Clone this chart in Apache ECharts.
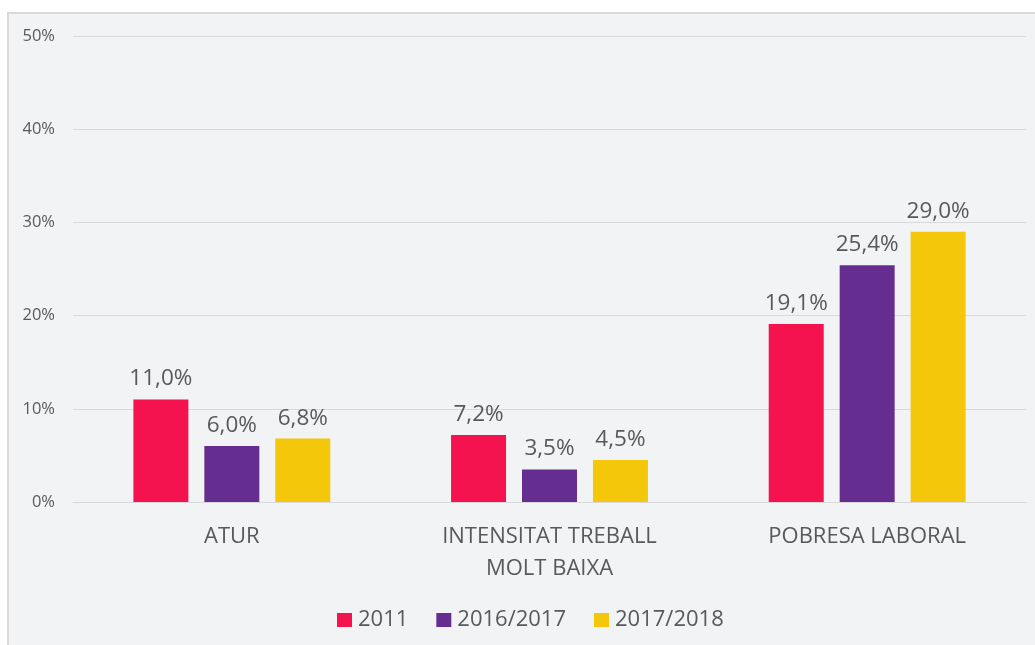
<!DOCTYPE html>
<html>
<head>
<meta charset="utf-8">
<script src="https://cdn.jsdelivr.net/npm/echarts@6/dist/echarts.min.js"></script>
<style>
  html, body { margin: 0; padding: 0; background: #ffffff; }
  #frame {
    position: absolute; left: 7px; top: 12px; width: 1040px; height: 650px;
    background: #f2f3f5; border: 2px solid #d9d9d9; box-sizing: border-box;
  }
  #chart { position: absolute; left: 0; top: 0; width: 1035px; height: 645px; }
</style>
</head>
<body>
<div id="frame"></div>
<div id="chart"></div>
<script>
// Categories and series (percentages)
const categories = ['ATUR', 'INTENSITAT TREBALL\nMOLT BAIXA', 'POBRESA LABORAL'];
const seriesNames = ['2011', '2016/2017', '2017/2018'];
const values2011 = [11.0, 7.2, 19.1];
const values2016 = [6.0, 3.5, 25.4];
const values2017 = [6.8, 4.5, 29.0];
const colors = ['#f5134f', '#662d91', '#f4c70a'];

const FONT = '"Open Sans", sans-serif';
const TEXT = '#595959';

const fmt = v => v.toFixed(1).replace('.', ',') + '%';

function barSeries(name, data, color) {
  return {
    name: name,
    type: 'bar',
    data: data,
    barWidth: 55,
    barGap: '29%',
    itemStyle: { color: color },
    label: {
      show: true,
      position: 'top',
      distance: 9,
      formatter: p => fmt(p.value),
      color: TEXT,
      fontFamily: FONT,
      fontSize: 22.5
    }
  };
}

const chart = echarts.init(document.getElementById('chart'), null, { renderer: 'canvas' });
chart.setOption({
  backgroundColor: 'transparent',
  animation: false,
  color: colors,
  grid: { left: 73, right: 9, top: 36, bottom: 143, containLabel: false },
  legend: {
    data: seriesNames,
    bottom: 9,
    left: 332,
    icon: 'rect',
    itemWidth: 15,
    itemHeight: 14,
    itemGap: 28,
    textStyle: { color: TEXT, fontFamily: FONT, fontSize: 22, padding: [0, 0, 0, 1] }
  },
  xAxis: {
    type: 'category',
    data: categories,
    axisLine: { show: true, lineStyle: { color: '#d9d9d9', width: 1 } },
    axisTick: { show: false },
    axisLabel: {
      color: TEXT,
      fontFamily: FONT,
      fontSize: 22,
      lineHeight: 32,
      margin: 19,
      interval: 0
    }
  },
  yAxis: {
    type: 'value',
    min: 0,
    max: 50,
    interval: 10,
    axisLine: { show: false },
    axisTick: { show: false },
    splitLine: { lineStyle: { color: '#d9d9d9', width: 1 } },
    axisLabel: {
      formatter: v => v + '%',
      color: TEXT,
      fontFamily: FONT,
      fontSize: 16.5,
      margin: 18
    }
  },
  series: [
    barSeries(seriesNames[0], values2011, colors[0]),
    barSeries(seriesNames[1], values2016, colors[1]),
    barSeries(seriesNames[2], values2017, colors[2])
  ]
});
</script>
</body>
</html>
